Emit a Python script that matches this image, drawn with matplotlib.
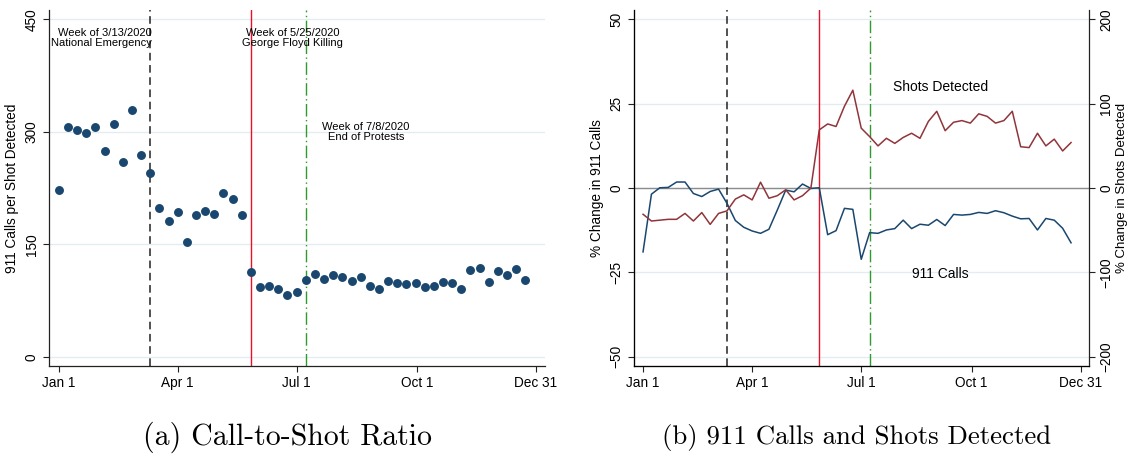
import matplotlib
matplotlib.use("Agg")
import matplotlib.pyplot as plt
import numpy as np

plt.rcParams['font.family'] = ['Liberation Sans', 'DejaVu Sans']

# weekly observations, days since Jan 1 2020
days = np.arange(0, 358, 7)

ratio = [222, 306, 303, 298, 307, 274, 310, 260, 329, 269, 245, 198, 181, 193,
         153, 189, 194, 191, 218, 211, 189, 113, 93, 95, 90, 82, 87, 102, 110,
         104, 109, 107, 101, 107, 94, 90, 101, 98, 97, 99, 93, 94, 100, 98, 91,
         116, 118, 100, 115, 109, 117, 103]

calls_pct = [-18.9, -1.8, 0.1, 0.2, 1.8, 1.8, -1.6, -2.5, -1.0, -0.3, -4.5,
             -9.6, -11.6, -12.7, -13.4, -12.2, -6.5, -0.6, -1.1, 1.2, -0.1, 0.1,
             -13.8, -12.6, -6.0, -6.3, -21.1, -13.2, -13.4, -12.4, -12.0, -9.5,
             -12.0, -10.7, -11.0, -9.3, -11.1, -7.8, -8.0, -7.8, -7.2, -7.5,
             -6.7, -7.3, -8.3, -9.1, -9.0, -12.4, -9.0, -9.5, -11.9, -16.2]

shots_pct = [-31, -39, -38, -37, -37, -30, -39, -29, -43, -30, -27, -13, -8,
             -14, 7, -12, -9, -2, -14, -9, 0, 69, 76, 73, 97, 116, 71, 61, 50,
             59, 53, 60, 65, 59, 79, 91, 68, 78, 80, 77, 88, 85, 77, 80, 91, 49,
             48, 65, 50, 58, 44, 54]

tick_days = [0, 91, 182, 274, 365]
tick_labels = ['Jan 1', 'Apr 1', 'Jul 1', 'Oct 1', 'Dec 31']

emergency_day = 70
floyd_day = 147
protest_end_day = 189

navy = '#1a476f'
maroon = '#90353b'
grid_c = '#e3edf1'

fig = plt.figure(figsize=(11.27, 4.55), dpi=100)
ax1 = fig.add_axes([0.0435, 0.1956, 0.440, 0.782])
ax2 = fig.add_axes([0.5626, 0.1956, 0.4037, 0.782])


def style_axis(ax):
    ax.spines['top'].set_visible(False)
    ax.spines['right'].set_visible(False)
    for s in ('left', 'bottom'):
        ax.spines[s].set_linewidth(0.9)
        ax.spines[s].set_color('#222222')
    ax.set_xlim(-7.5, 372)
    ax.set_xticks(tick_days)
    ax.set_xticklabels(tick_labels)
    ax.tick_params(axis='both', labelsize=9.8, length=4, width=0.8, color='#222222')
    ax.tick_params(axis='y', labelrotation=90)
    ax.grid(axis='y', color=grid_c, lw=1.0)
    ax.set_axisbelow(True)


def event_lines(ax):
    ax.axvline(emergency_day, color='#222222', ls=(0, (5, 3)), lw=1.1)
    ax.axvline(floyd_day, color='#e8102a', ls='-', lw=1.0)
    ax.axvline(protest_end_day, color='#2e9b2e', ls=(0, (9, 2.5, 1, 2.5)), lw=1.0)


# (a) call-to-shot ratio
ax1.set_ylim(-12, 462)
ax1.set_yticks([0, 150, 300, 450])
style_axis(ax1)
for lab in ax1.get_yticklabels():
    lab.set_va('center')
event_lines(ax1)
ax1.plot(days, ratio, 'o', color=navy, ms=5.4, zorder=3)
ax1.set_ylabel('911 Calls per Shot Detected', fontsize=9.8, labelpad=4)
ax1.text(emergency_day + 1, 425, 'Week of 3/13/2020\nNational Emergency',
         ha='right', va='center', fontsize=8, linespacing=1.0)
ax1.text(179, 425, 'Week of 5/25/2020\nGeorge Floyd Killing',
         ha='center', va='center', fontsize=8, linespacing=1.0)
ax1.text(235, 300, 'Week of 7/8/2020\nEnd of Protests',
         ha='center', va='center', fontsize=8, linespacing=1.0)

# (b) 911 calls and shots detected
ax2.set_ylim(-52.7, 52.7)
ax2.set_yticks([-50, -25, 0, 25, 50])
style_axis(ax2)
for lab in ax2.get_yticklabels():
    lab.set_va('center')
event_lines(ax2)
ax2.axhline(0, color='#8c8c8c', lw=1.0, zorder=1)
ax2.plot(days, calls_pct, color=navy, lw=1.1, zorder=3)
ax2.set_ylabel('% Change in 911 Calls', fontsize=9.8, labelpad=4)
ax2.text(248, 29.8, 'Shots Detected', ha='center', va='center', fontsize=10)
ax2.text(248, -25.3, '911 Calls', ha='center', va='center', fontsize=10)

ax3 = ax2.twinx()
ax3.set_ylim(-210.8, 210.8)
ax3.set_yticks([-200, -100, 0, 100, 200])
ax3.plot(days, shots_pct, color=maroon, lw=1.1, zorder=3)
ax3.spines['top'].set_visible(False)
ax3.spines['right'].set_linewidth(0.9)
ax3.spines['right'].set_color('#222222')
ax3.tick_params(axis='y', labelsize=9.8, length=4, width=0.8, labelrotation=90, color='#222222')
for lab in ax3.get_yticklabels():
    lab.set_va('center')
ax3.set_ylabel('% Change in Shots Detected', fontsize=9.5, labelpad=2)

fig.text(0.2547, 0.038, '(a) Call-to-Shot Ratio', ha='center', va='center',
         fontsize=21.5, family='cmr10')
fig.text(0.760, 0.038, '(b) 911 Calls and Shots Detected', ha='center', va='center',
         fontsize=19.3, family='cmr10')

fig.savefig('out.png', dpi=100)
